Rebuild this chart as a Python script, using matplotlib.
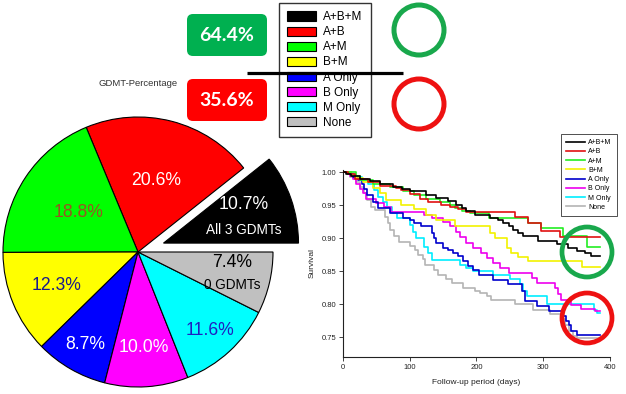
import matplotlib
matplotlib.use('Agg')
import matplotlib.pyplot as plt
import numpy as np
from matplotlib.patches import FancyBboxPatch, Circle

plt.rcParams['font.family'] = ['Liberation Sans', 'DejaVu Sans']

# pie data
groups = ['A+B+M', 'A+B', 'A+M', 'B+M', 'A Only', 'B Only', 'M Only', 'None']
shares = [10.7, 20.6, 18.8, 12.3, 8.7, 10.0, 11.6, 7.4]
pie_colors = ['#000000', '#ff0000', '#00ff00', '#ffff00', '#0000ff', '#ff00ff', '#00ffff', '#c0c0c0']
sub_labels = ['All 3 GDMTs', '', '', '', '', '', '', '0 GDMTs']
box_pcts = ['64.4%', '35.6%']

# Kaplan-Meier step points (day, survival)
t_abm = [0, 5, 12, 25, 40, 55, 75, 88, 100, 125, 140, 158, 170, 178, 185, 198, 220, 232, 240, 248, 255, 262, 270, 292, 320, 337, 350, 362, 372, 385]
s_abm = [1.0, .998, .995, .99, .987, .983, .978, .975, .971, .965, .961, .956, .951, .946, .942, .936, .931, .927, .923, .918, .913, .908, .903, .896, .891, .886, .881, .877, .873, .873]
t_ab = [0, 8, 18, 37, 55, 80, 87, 100, 115, 127, 147, 160, 172, 185, 258, 277, 297, 325, 385]
s_ab = [1.0, .997, .99, .985, .98, .976, .973, .967, .96, .955, .95, .948, .944, .94, .932, .923, .911, .902, .902]
t_am = [0, 20, 25, 45, 70, 90, 107, 125, 145, 160, 168, 178, 190, 218, 277, 297, 330, 365, 385]
s_am = [1.0, .995, .989, .983, .978, .972, .966, .96, .955, .951, .946, .942, .939, .931, .923, .916, .903, .887, .887]
t_bm = [0, 12, 20, 30, 45, 55, 65, 87, 107, 125, 140, 168, 220, 227, 245, 252, 262, 277, 358, 385]
s_bm = [1.0, .996, .991, .985, .976, .968, .958, .951, .944, .936, .928, .919, .908, .90, .886, .878, .872, .866, .857, .857]
t_a = [0, 8, 15, 22, 28, 32, 36, 45, 52, 70, 90, 100, 107, 117, 133, 137, 140, 150, 158, 165, 172, 180, 187, 195, 203, 225, 247, 268, 272, 290, 308, 328, 334, 338, 342, 350, 385]
s_a = [1.0, .997, .993, .988, .982, .975, .966, .955, .946, .938, .931, .928, .923, .918, .908, .9, .893, .886, .882, .878, .873, .866, .858, .852, .844, .837, .83, .82, .805, .797, .789, .782, .775, .768, .76, .753, .753]
t_b = [0, 10, 15, 20, 25, 30, 35, 50, 62, 72, 121, 133, 150, 160, 170, 176, 185, 195, 206, 215, 225, 235, 248, 283, 290, 318, 322, 326, 342, 357, 378, 385]
s_b = [1.0, .995, .99, .983, .975, .968, .96, .953, .947, .94, .936, .93, .925, .918, .91, .902, .893, .886, .878, .87, .862, .855, .848, .84, .832, .825, .815, .806, .799, .793, .789, .789]
t_m = [0, 12, 18, 28, 38, 46, 53, 60, 66, 73, 81, 100, 105, 110, 121, 128, 133, 176, 185, 195, 225, 250, 265, 270, 275, 305, 376, 380, 385]
s_m = [1.0, .997, .993, .988, .983, .973, .963, .955, .948, .938, .93, .92, .91, .9, .887, .877, .867, .86, .855, .85, .845, .838, .83, .82, .812, .80, .792, .786, .786]
t_n = [0, 10, 20, 26, 31, 36, 42, 48, 63, 67, 71, 76, 84, 100, 108, 113, 120, 123, 137, 142, 155, 163, 180, 198, 205, 215, 222, 257, 285, 310, 326, 332, 338, 345, 350, 383]
s_n = [1.0, .993, .986, .978, .968, .958, .948, .943, .933, .923, .912, .903, .895, .888, .882, .875, .868, .86, .852, .845, .838, .832, .825, .82, .817, .812, .807, .80, .792, .785, .777, .768, .76, .752, .749, .749]

km_times = [t_abm, t_ab, t_am, t_bm, t_a, t_b, t_m, t_n]
km_surv = [s_abm, s_ab, s_am, s_bm, s_a, s_b, s_m, s_n]
km_colors = ['#000000', '#e01010', '#22ee22', '#f2f200', '#0000cc', '#ee00ee', '#00eeff', '#b4b4b4']

W, H = 626, 394
fig = plt.figure(figsize=(W / 100, H / 100), dpi=100)

# ---- pie (1 data unit = R pixels) ----
R = 135.0
cx, cy = 138, 252
axp = fig.add_axes([0, 0, 1, 1])
wedges, _ = axp.pie(shares, colors=pie_colors, explode=[0.2, 0, 0, 0, 0, 0, 0, 0],
                    startangle=0, counterclock=True,
                    wedgeprops=dict(edgecolor='black', linewidth=0.8))
axp.set_xlim(-cx / R, (W - cx) / R)
axp.set_ylim(-(H - cy) / R, cy / R)
axp.axis('off')

lab_r = [0.63, 0.55, 0.53, 0.65, 0.79, 0.71, 0.79, 0.72]
lab_colors = ['white', 'white', '#995522', '#1a1a8c', 'white', 'white', '#2020c0', 'black']
pct_dy = [0.08, 0, 0, 0, 0, 0, 0, 0.085]
sub_dy = [-0.11, 0, 0, 0, 0, 0, 0, -0.08]
for w, v, r, c, dy1, dy2, sub in zip(wedges, shares, lab_r, lab_colors, pct_dy, sub_dy, sub_labels):
    th = np.deg2rad((w.theta1 + w.theta2) / 2)
    x = w.center[0] + r * np.cos(th)
    y = w.center[1] + r * np.sin(th)
    axp.text(x, y + dy1, '%.1f%%' % v, ha='center', va='center', fontsize=12.7, color=c)
    if sub:
        axp.text(x, y + dy2, sub, ha='center', va='center', fontsize=9.8, color=c)

# legend of the pie
leg = fig.legend(wedges, groups, loc='upper left', bbox_to_anchor=(279 / W, 1 - 3 / H),
                 fontsize=8.5, frameon=True, fancybox=False, edgecolor='black',
                 handlelength=2.45, handleheight=0.85, handletextpad=0.6,
                 labelspacing=0.26, borderpad=0.7, borderaxespad=0)
leg.get_frame().set_linewidth(1.0)

# ---- survival plot ----
axs = fig.add_axes([343 / W, (H - 357) / H, 267 / W, 187 / H])
lines = []
for t, s, c in zip(km_times, km_surv, km_colors):
    ln, = axs.step(t, s, where='post', color=c, lw=1.2)
    lines.append(ln)
for i, ln in enumerate(lines):
    ln.set_zorder(3 + len(lines) - i)
axs.set_xlim(0, 400)
axs.set_ylim(0.72, 1.0035)
axs.set_xticks([0, 100, 200, 300, 400])
axs.set_yticks([0.75, 0.80, 0.85, 0.90, 0.95, 1.00])
axs.set_yticklabels(['%.2f' % v for v in [0.75, 0.80, 0.85, 0.90, 0.95, 1.00]])
axs.spines['top'].set_visible(False)
axs.spines['right'].set_visible(False)
for sp in ['left', 'bottom']:
    axs.spines[sp].set_linewidth(0.8)
    axs.spines[sp].set_color('#222222')
axs.tick_params(labelsize=5.5, length=3, width=0.6, pad=2, colors='#222222')
axs.set_xlabel('Follow-up period (days)', fontsize=6, labelpad=6, color='#222222')
axs.set_ylabel('Survival', fontsize=6, labelpad=4, color='#222222')
leg2 = axs.legend(lines, groups, loc='upper right', bbox_to_anchor=(617 / W, 1 - 134 / H),
                  bbox_transform=fig.transFigure, fontsize=5, frameon=True, fancybox=False,
                  edgecolor='black', handlelength=2.75, handletextpad=0.45,
                  labelspacing=0.32, borderpad=0.75, borderaxespad=0)
leg2.get_frame().set_linewidth(0.6)

# ---- overlay annotations (pixel coords) ----
axo = fig.add_axes([0, 0, 1, 1], zorder=10)
axo.set_xlim(0, W)
axo.set_ylim(H, 0)
axo.axis('off')

box_colors = ['#00b050', '#ff0000']
box_tops = [14, 79]
for txt, bc, top in zip(box_pcts, box_colors, box_tops):
    axo.add_patch(FancyBboxPatch((187, top), 80, 42, boxstyle='round,pad=0,rounding_size=6',
                                 fc=bc, ec='none'))
    axo.text(227, top + 21, txt, ha='center', va='center', fontsize=14,
             fontweight='bold', color='white', family=['Lato', 'DejaVu Sans'])

axo.text(138, 83, 'GDMT-Percentage', ha='center', va='center', fontsize=6.8, color='#333333')
axo.plot([247, 403], [73, 73], color='black', lw=2.3, solid_capstyle='butt')

ring_green = '#19a84c'
ring_red = '#ee1111'
axo.add_patch(Circle((419, 30), 25, fill=False, ec=ring_green, lw=3.6))
axo.add_patch(Circle((419, 104), 25, fill=False, ec=ring_red, lw=3.6))
axo.add_patch(Circle((587, 252), 25, fill=False, ec=ring_green, lw=3.4))
axo.add_patch(Circle((587, 318), 25, fill=False, ec=ring_red, lw=3.4))

fig.savefig('out.png', dpi=100)
